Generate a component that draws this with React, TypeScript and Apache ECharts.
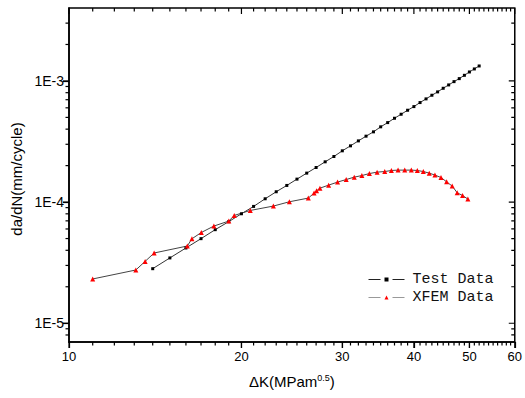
import React, { useEffect, useRef } from "react";
import * as echarts from "echarts";

const testK = [14, 15, 16, 17, 18, 19, 20, 21, 22, 23, 24, 25, 26, 27, 28, 29, 30, 31, 32, 33, 34, 35, 36, 37, 38, 39, 40, 41, 42, 43, 44, 45, 46, 47, 48, 49, 50, 51, 52];
const testRate = [2.82e-5, 3.46e-5, 4.18e-5, 4.99e-5, 5.92e-5, 6.89e-5, 8.01e-5, 9.21e-5, 1.065e-4, 1.217e-4, 1.372e-4, 1.547e-4, 1.734e-4, 1.93e-4, 2.15e-4, 2.378e-4, 2.65e-4, 2.912e-4, 3.2e-4, 3.5e-4, 3.8e-4, 4.18e-4, 4.53e-4, 4.92e-4, 5.31e-4, 5.73e-4, 6.14e-4, 6.63e-4, 7.11e-4, 7.62e-4, 8.12e-4, 8.7e-4, 9.27e-4, 9.87e-4, 1.045e-3, 1.113e-3, 1.186e-3, 1.256e-3, 1.329e-3];

const xfemK = [11.0, 13.08, 13.58, 14.08, 16.09, 16.39, 17.02, 17.9, 19.01, 19.43, 20.72, 22.74, 24.25, 26.17, 26.78, 27.05, 27.42, 28.39, 29.43, 30.47, 31.47, 32.45, 33.45, 34.5, 35.58, 36.54, 37.53, 38.56, 39.59, 40.55, 41.54, 42.55, 43.53, 44.6, 45.62, 46.66, 47.6, 48.64, 49.69];
const xfemRate = [2.32e-5, 2.75e-5, 3.24e-5, 3.8e-5, 4.34e-5, 4.98e-5, 5.61e-5, 6.34e-5, 6.97e-5, 7.76e-5, 8.53e-5, 9.27e-5, 1.006e-4, 1.079e-4, 1.186e-4, 1.239e-4, 1.303e-4, 1.38e-4, 1.462e-4, 1.535e-4, 1.607e-4, 1.656e-4, 1.72e-4, 1.767e-4, 1.787e-4, 1.823e-4, 1.836e-4, 1.836e-4, 1.836e-4, 1.823e-4, 1.787e-4, 1.734e-4, 1.67e-4, 1.596e-4, 1.47e-4, 1.355e-4, 1.194e-4, 1.133e-4, 1.059e-4];

const xMajorTicks = [10, 20, 30, 40, 50, 60];
const xMinorTicks = [11, 12, 13, 14, 15, 16, 17, 18, 19, 21, 22, 23, 24, 25, 26, 27, 28, 29, 31, 32, 33, 34, 35, 36, 37, 38, 39, 41, 42, 43, 44, 45, 46, 47, 48, 49, 51, 52, 53, 54, 55, 56, 57, 58, 59];
const yMajorTicks = [1e-5, 1e-4, 1e-3];
const yMinorTicks = [8e-6, 9e-6, 2e-5, 3e-5, 4e-5, 5e-5, 6e-5, 7e-5, 8e-5, 9e-5, 2e-4, 3e-4, 4e-4, 5e-4, 6e-4, 7e-4, 8e-4, 9e-4, 2e-3, 3e-3];

const xMin = 10, xMax = 60, yMin = 7e-6, yMax = 4e-3;

export default function App() {
  const ref = useRef<HTMLDivElement>(null);
  useEffect(() => {
    if (!ref.current) return;
    const chart = echarts.init(ref.current, undefined, { renderer: "svg" });
    const font = "Liberation Sans";

    // one custom series per frame side; each item is a single rect placed via api.coord
    const tickSeries = (ticks: number[], len: number, side: string): any => ({
      name: "Test Data",
      type: "custom",
      coordinateSystem: "cartesian2d",
      encode: { x: 0, y: 1 },
      data: ticks.map((v) => (side === "bottom" || side === "top" ? [v, 1e-4] : [20, v])),
      renderItem: (params: any, api: any) => {
        if (side === "bottom" || side === "top") {
          const v = api.value(0);
          const p = api.coord([v, side === "bottom" ? yMin : yMax]);
          return { type: "rect", shape: { x: p[0] - 0.6, y: p[1], width: 1.2, height: len }, style: { fill: "#000" } };
        }
        const v = api.value(1);
        const p = api.coord([side === "left" ? xMin : xMax, v]);
        return { type: "rect", shape: { x: p[0] - len, y: p[1] - 0.6, width: len, height: 1.2 }, style: { fill: "#000" } };
      },
    });

    chart.setOption({
      animation: false,
      grid: { left: 69, right: 9, top: 8, bottom: 56, show: true, borderColor: "#000", borderWidth: 1.5 },
      legend: {
        orient: "vertical",
        left: 368,
        top: 272,
        itemWidth: 36,
        itemHeight: 5,
        itemGap: 3,
        padding: 0,
        itemStyle: { borderWidth: 0 },
        lineStyle: { width: 1, type: [12, 12] },
        textStyle: { fontFamily: "Liberation Mono", fontSize: 15, color: "#111", padding: [0, 0, 0, 3] },
        data: [
          { name: "Test Data", lineStyle: { color: "#222", width: 1, type: [12, 12] } },
          { name: "XFEM Data", lineStyle: { color: "#999", width: 1, type: [12, 12] } },
        ],
      },
      xAxis: {
        type: "log",
        logBase: 10,
        min: xMin,
        max: xMax,
        position: "bottom",
        axisLine: { show: true, onZero: false, lineStyle: { color: "#000", width: 1.5 } },
        axisTick: { show: true, length: 6, customValues: xMajorTicks, lineStyle: { color: "#000", width: 1.2 } },
        minorTick: { show: false },
        splitLine: { show: false },
        axisLabel: { show: true, customValues: xMajorTicks, color: "#000", fontFamily: font, fontSize: 13, margin: 8, formatter: (v: number) => String(Math.round(v)) },
        name: "ΔK(MPam{sup|0.5})",
        nameLocation: "middle",
        nameGap: 31,
        nameTextStyle: {
          color: "#000", fontFamily: font, fontSize: 15,
          rich: { sup: { fontSize: 9, fontFamily: font, color: "#000", verticalAlign: "top", padding: [0, 0, 8, 0] } },
        },
      },
      yAxis: {
        type: "log",
        logBase: 10,
        min: yMin,
        max: yMax,
        position: "left",
        axisLine: { show: true, onZero: false, lineStyle: { color: "#000", width: 1.5 } },
        axisTick: { show: true, length: 6, customValues: yMajorTicks, lineStyle: { color: "#000", width: 1.2 } },
        minorTick: { show: false },
        splitLine: { show: false },
        axisLabel: { show: true, customValues: yMajorTicks, color: "#000", fontFamily: font, fontSize: 14, margin: 5, formatter: (v: number) => "1E" + Math.round(Math.log10(v)) },
        name: "da/dN(mm/cycle)",
        nameLocation: "middle",
        nameGap: 44,
        nameTextStyle: { color: "#000", fontFamily: font, fontSize: 15, padding: [0, 8, 0, 0] },
      },
      series: [
        {
          name: "Test Data",
          type: "line",
          data: testK.map((k, i) => [k, testRate[i]]),
          symbol: "rect",
          symbolSize: 3,
          showSymbol: true,
          itemStyle: { color: "#000" },
          lineStyle: { color: "#333", width: 1 },
        },
        {
          name: "XFEM Data",
          type: "line",
          data: xfemK.map((k, i) => [k, xfemRate[i]]),
          symbol: "triangle",
          symbolSize: 5,
          showSymbol: true,
          itemStyle: { color: "#ff0000" },
          lineStyle: { color: "#444", width: 1 },
        },
        tickSeries(xMajorTicks, 6, "bottom"),
        tickSeries(xMinorTicks, 3.5, "bottom"),
        tickSeries(xMajorTicks, 6, "top"),
        tickSeries(xMinorTicks, 3.5, "top"),
        tickSeries(yMajorTicks, 6, "left"),
        tickSeries(yMinorTicks, 3.5, "left"),
        tickSeries(yMajorTicks, 6, "right"),
        tickSeries(yMinorTicks, 3.5, "right"),
      ],
    });
    return () => chart.dispose();
  }, []);
  return <div ref={ref} style={{ position: "fixed", left: 0, top: 0, width: 525, height: 398, background: "#fff" }} />;
}
